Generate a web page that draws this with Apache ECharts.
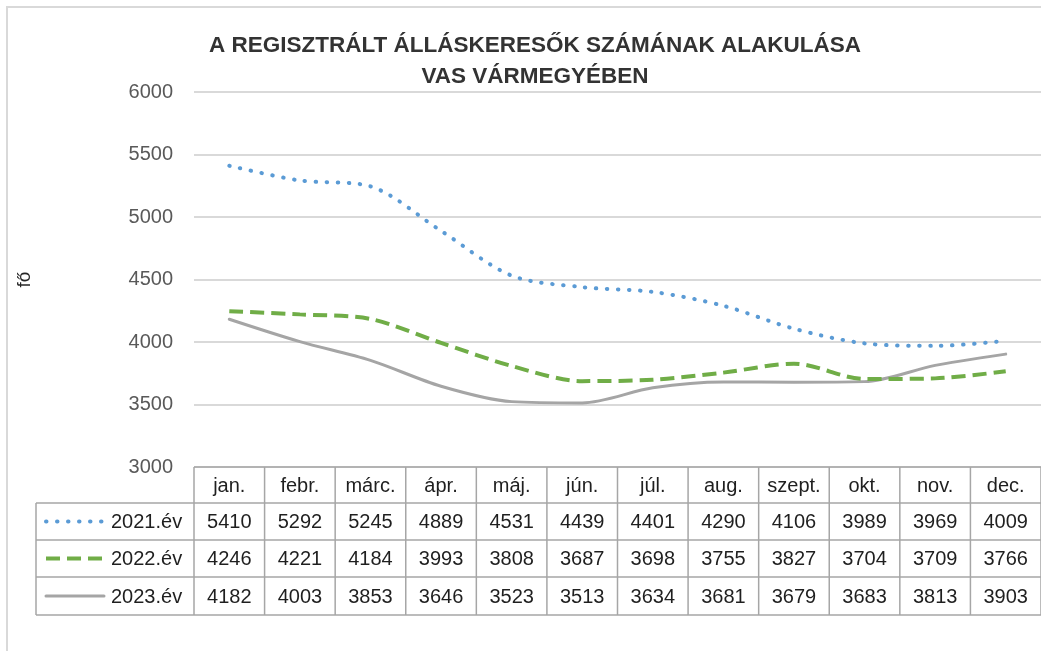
<!DOCTYPE html>
<html>
<head>
<meta charset="utf-8">
<script src="https://cdn.jsdelivr.net/npm/echarts@6/dist/echarts.min.js"></script>
<style>
  html, body { margin: 0; padding: 0; background: #fff; }
  #main { width: 1041px; height: 651px; }
</style>
</head>
<body>
<div id="main"></div>
<script>
// data
const months = ['jan.', 'febr.', 'márc.', 'ápr.', 'máj.', 'jún.', 'júl.', 'aug.', 'szept.', 'okt.', 'nov.', 'dec.'];
const seriesNames = ['2021.év', '2022.év', '2023.év'];
const values2021 = [5410, 5292, 5245, 4889, 4531, 4439, 4401, 4290, 4106, 3989, 3969, 4009];
const values2022 = [4246, 4221, 4184, 3993, 3808, 3687, 3698, 3755, 3827, 3704, 3709, 3766];
const values2023 = [4182, 4003, 3853, 3646, 3523, 3513, 3634, 3681, 3679, 3683, 3813, 3903];
const yMin = 3000, yMax = 6000, yStep = 500;

const colors = ['#5b9bd5', '#70ad47', '#a5a5a5'];
const lineStyles = [
  { width: 4, type: [0.5, 10.5], cap: 'round' },
  { width: 4, type: [14, 7], cap: 'butt' },
  { width: 3, type: 'solid', cap: 'round' }
];
const allValues = [values2021, values2022, values2023];
const font = 'Liberation Sans, Arial, sans-serif';

const chart = echarts.init(document.getElementById('main'));

const option = {
  animation: false,
  title: {
    text: 'A REGISZTRÁLT ÁLLÁSKERESŐK SZÁMÁNAK ALAKULÁSA\nVAS VÁRMEGYÉBEN',
    left: 530,
    top: 25,
    textAlign: 'center',
    textStyle: {
      fontFamily: font,
      fontWeight: 'bold',
      fontSize: 22.5,
      lineHeight: 31,
      color: '#333333'
    }
  },
  grid: { left: 194, right: -11, top: 92, bottom: 184, containLabel: false },
  xAxis: {
    type: 'category',
    data: months,
    boundaryGap: true,
    axisLine: { show: false },
    axisTick: { show: false },
    axisLabel: { show: false }
  },
  yAxis: {
    type: 'value',
    min: yMin,
    max: yMax,
    interval: yStep,
    name: 'fő',
    nameLocation: 'middle',
    nameGap: 160,
    nameTextStyle: { fontFamily: font, fontSize: 19, color: '#262626' },
    axisLine: { show: false },
    axisTick: { show: false },
    axisLabel: {
      margin: 21, fontFamily: font, fontSize: 20, color: '#595959',
      formatter: v => String(v)
    },
    splitLine: { lineStyle: { color: '#d9d9d9', width: 2 } }
  },
  series: allValues.map((vals, i) => ({
    name: seriesNames[i],
    type: 'line',
    data: vals,
    smooth: 0.3,
    symbol: 'none',
    z: 3 - i,
    lineStyle: Object.assign({ color: colors[i] }, lineStyles[i])
  }))
};

chart.setOption(option);

// data table under the plot, placed from the axis scales
function buildTable() {
  const gridColor = '#a6a6a6';
  const top = chart.convertToPixel({ yAxisIndex: 0 }, yMin);
  const c0 = chart.convertToPixel({ xAxisIndex: 0 }, 0);
  const c1 = chart.convertToPixel({ xAxisIndex: 0 }, 1);
  const colW = c1 - c0;
  const left = c0 - colW / 2;
  const right = left + colW * months.length;
  const legendLeft = 36;
  const rowTops = [top, top + 36, top + 73, top + 110, top + 148];
  const els = [];
  const line = (x1, y1, x2, y2) => els.push({
    type: 'line', shape: { x1, y1, x2, y2 },
    style: { stroke: gridColor, lineWidth: 1.5 }, z: 10
  });
  // horizontal lines
  line(left, rowTops[0], right, rowTops[0]);
  for (let r = 1; r < rowTops.length; r++) line(legendLeft, rowTops[r], right, rowTops[r]);
  // vertical lines
  line(legendLeft, rowTops[1], legendLeft, rowTops[4]);
  for (let c = 0; c <= months.length; c++) {
    const x = left + c * colW;
    line(x, rowTops[0], x, rowTops[4]);
  }
  const txt = (x, y, s, align) => els.push({
    type: 'text', x, y, z: 10,
    style: { text: s, fill: '#1f1f1f', font: '20px ' + font, align: align || 'center', verticalAlign: 'middle' }
  });
  months.forEach((m, c) => {
    const cx = chart.convertToPixel({ xAxisIndex: 0 }, c);
    txt(cx, (rowTops[0] + rowTops[1]) / 2 + 1, m);
    allValues.forEach((vals, r) => {
      txt(cx, (rowTops[r + 1] + rowTops[r + 2]) / 2 + 1, String(vals[c]));
    });
  });
  seriesNames.forEach((n, r) => {
    const cy = (rowTops[r + 1] + rowTops[r + 2]) / 2;
    els.push({
      type: 'line', z: 10,
      shape: { x1: 46, y1: cy, x2: 104, y2: cy },
      style: {
        stroke: colors[r], lineWidth: lineStyles[r].width,
        lineDash: Array.isArray(lineStyles[r].type) ? lineStyles[r].type : null,
        lineCap: lineStyles[r].cap
      }
    });
    txt(111, cy + 1, n, 'left');
  });
  // outer frame of the chart area
  els.push({
    type: 'polyline', z: 0,
    shape: { points: [[7, 700], [7, 7], [1100, 7]] },
    style: { stroke: '#d9d9d9', lineWidth: 2, fill: null }
  });
  chart.setOption({ graphic: { elements: els } });
}
buildTable();
</script>
</body>
</html>
